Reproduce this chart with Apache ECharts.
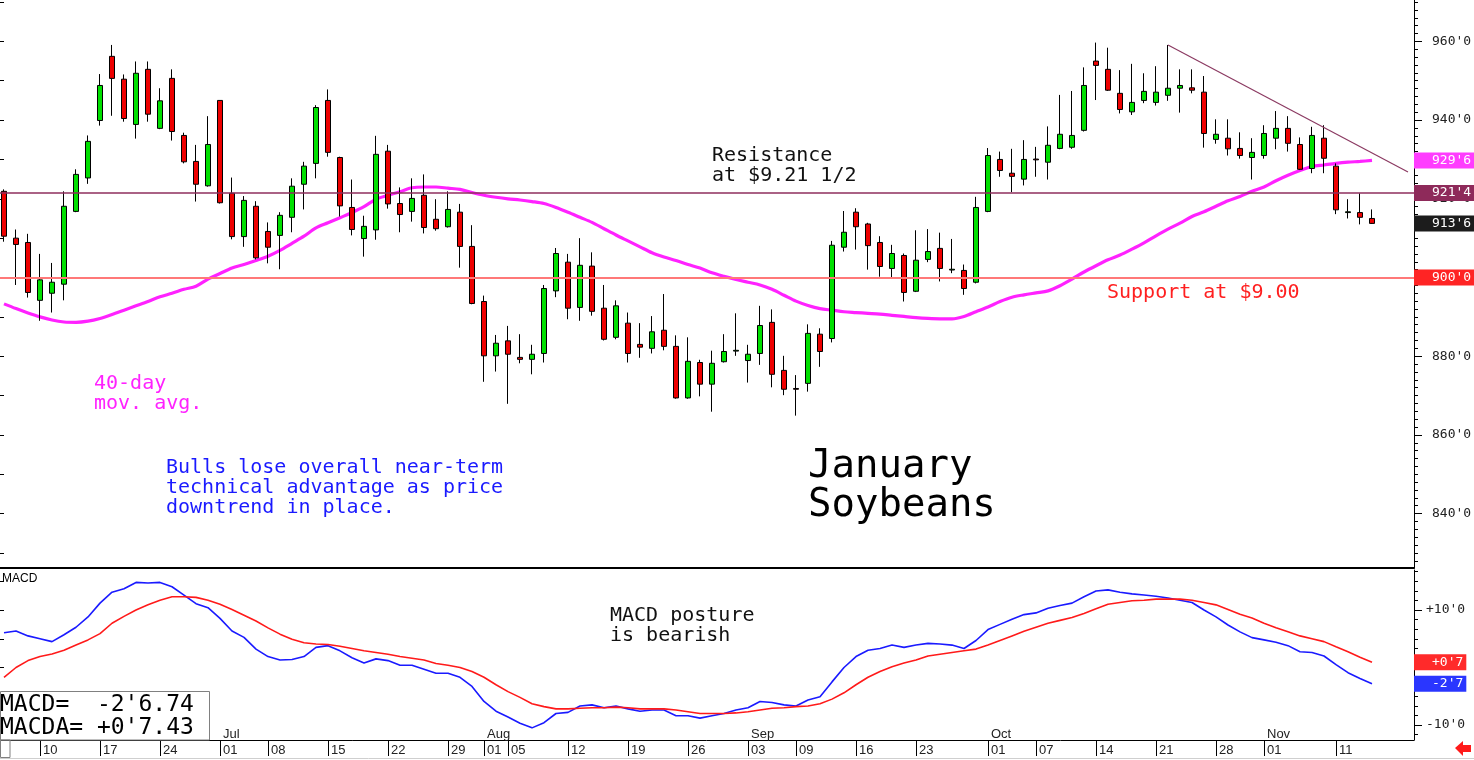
<!DOCTYPE html>
<html><head><meta charset="utf-8">
<script src="https://cdn.jsdelivr.net/npm/echarts@6/dist/echarts.min.js"></script>
<style>html,body{margin:0;padding:0;background:#fff}#c{width:1474px;height:760px}</style>
</head><body><div id="c"></div>
<script>
// ---- trading days (2019) ----
const junDays=[5,6,7,10,11,12,13,14,17,18,19,20,21,24,25,26,27,28];
const julDays=[1,2,3,5,8,9,10,11,12,15,16,17,18,19,22,23,24,25,26,29,30,31];
const augDays=[1,2,5,6,7,8,9,12,13,14,15,16,19,20,21,22,23,26,27,28,29,30];
const sepDays=[3,4,5,6,9,10,11,12,13,16,17,18,19,20,23,24,25,26,27,30];
const octDays=[1,2,3,4,7,8,9,10,11,14,15,16,17,18,21,22,23,24,25,28,29,30,31];
const novDays=[1,4,5,6,7,8,11,12,13,14];
const dayLabels=['06-10','06-17','06-24','07-01','07-08','07-15','07-22','07-29','08-01','08-05','08-12','08-19','08-26','09-03','09-09','09-16','09-23','10-01','10-07','10-14','10-21','10-28','11-01','11-11'];
const monthLabels={'07-01':'Jul','08-01':'Aug','09-03':'Sep','10-01':'Oct','11-01':'Nov'};
const priceTicks=[840,860,880,900,920,940,960];
const macdTicks=[-10,10];

// ---- OHLC ----
const opens=[921.9,910.0,908.9,894.2,896.0,898.3,916.8,925.3,939.9,956.2,950.4,938.9,952.9,937.9,950.6,936.1,929.5,923.3,945.0,921.4,910.4,918.1,911.7,910.7,915.3,923.7,929.0,945.0,930.5,917.8,909.9,912.1,932.1,918.8,916.8,920.9,914.8,912.9,916.6,907.9,893.9,880.1,883.9,879.7,879.2,880.7,896.6,903.9,892.4,902.9,892.2,884.8,888.4,883.0,882.0,886.6,882.5,869.4,878.4,872.9,878.6,881.3,878.9,880.7,888.6,876.4,871.8,873.1,885.6,884.5,907.7,916.6,913.6,908.9,902.3,905.6,896.5,904.6,907.4,901.9,901.8,898.8,916.8,930.0,926.5,925.0,930.1,929.3,932.8,933.1,937.4,955.0,952.9,946.8,942.1,945.0,944.5,946.3,948.1,948.2,947.1,935.1,935.4,932.8,930.5,931.0,935.4,937.9,933.8,927.7,935.4,928.3,916.5,916.5,915.0];
const closes=[910.5,908.4,896.2,899.4,898.8,918.1,926.2,934.6,948.8,950.6,940.4,951.9,941.5,944.9,937.1,929.4,923.7,933.8,919.0,910.4,919.6,905.0,907.7,915.8,923.2,928.3,943.2,931.8,918.2,912.2,913.0,931.3,918.7,916.0,920.1,912.7,912.4,917.3,907.9,893.4,880.1,883.3,880.5,879.2,880.5,897.2,906.1,892.2,903.1,891.4,884.3,892.8,880.7,882.3,886.2,882.5,869.4,878.7,872.9,878.2,881.2,881.5,880.5,887.8,875.4,871.6,871.6,885.8,881.2,908.2,911.5,912.9,908.1,902.8,906.1,896.2,904.4,906.6,902.3,902.1,897.2,917.8,931.0,927.2,925.7,930.0,929.9,933.6,936.4,936.1,948.8,953.9,947.6,942.7,944.5,947.3,947.1,948.1,948.8,947.6,936.6,936.4,932.7,931.0,931.8,936.6,937.9,934.1,927.5,936.1,930.3,917.2,916.7,915.3,913.75];
const lows=[909.1,898.1,894.9,889.0,891.1,894.2,916.6,923.8,938.6,941.1,939.6,935.3,939.6,937.7,934.8,929.0,919.3,923.1,918.8,909.7,907.8,904.6,903.6,902.1,911.5,917.3,925.2,930.7,915.5,910.7,905.3,909.6,917.5,911.5,914.2,911.2,911.9,912.7,902.5,893.2,873.5,876.1,867.9,878.2,875.4,878.4,895.0,889.4,889.0,890.3,884.0,884.3,878.4,879.6,880.7,881.5,869.2,869.2,869.8,865.9,878.4,880.1,873.3,877.8,872.1,870.1,864.9,871.0,877.3,883.5,906.6,907.1,902.0,900.2,899.7,893.9,896.3,903.9,899.0,901.1,895.6,898.5,916.6,925.6,921.7,923.4,925.6,924.9,932.6,932.7,937.1,945.1,947.4,941.7,941.3,944.3,943.7,944.9,941.9,946.8,933.0,934.0,931.0,930.2,924.9,930.2,932.6,932.0,927.3,926.5,926.5,916.1,915.0,913.5,913.6];
const highs=[922.4,912.2,911.1,906.0,903.7,921.9,927.5,936.1,951.7,959.1,951.6,954.9,954.9,948.1,952.9,936.8,933.7,941.0,945.0,925.4,920.7,919.4,914.0,916.6,925.2,929.4,943.8,947.8,930.7,924.9,915.7,936.0,933.7,922.9,925.2,926.2,919.9,921.9,918.7,913.3,895.4,885.4,887.7,885.6,882.9,898.1,907.5,906.0,910.0,906.4,898.1,894.2,891.1,888.4,890.2,895.8,885.3,884.8,879.1,881.4,885.6,890.9,882.9,892.8,891.9,880.1,875.2,888.1,887.1,909.3,916.9,917.6,913.9,910.5,908.3,906.1,912.0,912.3,911.4,909.8,903.3,920.5,932.9,932.0,932.7,934.9,933.2,938.4,946.4,947.4,953.4,959.7,958.4,952.7,954.3,951.9,953.7,959.1,952.9,952.9,951.2,940.2,940.2,936.9,935.4,938.7,942.3,941.0,935.6,938.3,938.7,929.0,919.9,921.4,917.3];
// ---- 40-day moving average ----
const ma40=[893.3,892.1,891.0,890.0,889.2,888.7,888.6,888.9,889.6,890.6,891.7,892.8,893.9,895.1,896.0,897.0,897.8,899.6,901.0,902.4,903.3,904.3,905.4,906.9,908.7,910.5,912.6,913.9,915.2,916.5,918.0,919.9,920.9,921.8,922.8,923.0,923.0,922.7,922.4,921.6,920.9,920.4,920.0,919.7,919.3,918.8,917.8,916.6,915.3,914.0,912.4,910.8,909.3,907.8,906.3,905.2,904.3,903.3,902.4,901.2,900.3,899.5,898.8,898.1,897.0,895.5,894.0,892.9,892.1,891.7,891.3,891.1,890.9,890.7,890.4,890.1,889.8,889.6,889.5,889.5,890.1,891.3,892.5,893.9,895.0,895.6,896.1,896.6,897.9,899.6,901.4,903.0,904.5,905.7,907.2,908.8,910.6,912.3,913.8,915.5,916.7,918.1,919.5,920.6,921.9,923.0,924.6,926.0,927.2,928.2,928.6,929.0,929.3,929.5,929.75];
// ---- MACD ----
const macd=[6.05,6.35,5.5,5.0,4.5,5.7,7.0,8.8,11.2,13.1,13.7,14.8,14.7,14.8,14.05,12.6,11.1,10.4,8.55,6.35,5.24,3.2,1.9,1.3,1.4,1.9,3.5,3.8,2.9,1.7,0.8,1.5,1.2,0.4,0.4,-0.3,-1.0,-1.0,-1.7,-3.3,-5.9,-7.6,-8.6,-9.7,-10.5,-9.6,-8.0,-7.8,-6.7,-6.5,-7.0,-6.7,-7.2,-7.6,-7.4,-7.4,-8.4,-8.4,-8.8,-8.4,-8.0,-7.4,-7.0,-5.9,-6.1,-6.5,-6.7,-5.65,-5.1,-2.5,0.0,1.9,3.0,3.3,3.9,3.5,3.9,4.2,4.1,3.9,3.3,4.7,6.6,7.5,8.4,9.2,9.5,10.3,10.8,11.2,12.3,13.3,13.5,13.1,12.8,12.6,12.4,12.1,11.7,11.3,10.0,8.8,7.4,6.2,5.2,4.8,4.4,3.8,2.75,2.6,2.0,0.5,-0.9,-1.9,-2.84];
const signal=[-1.7,0.0,1.2,1.9,2.35,3.0,3.9,4.8,5.9,7.7,8.9,10.0,10.9,11.7,12.3,12.3,12.2,11.7,11.0,10.1,9.1,8.1,6.9,5.8,4.9,4.3,4.1,4.0,3.7,3.3,2.9,2.6,2.3,1.9,1.6,1.3,0.7,0.4,0.0,-0.7,-1.7,-3.0,-4.2,-5.2,-6.3,-6.8,-7.2,-7.2,-7.1,-7.0,-7.0,-6.9,-7.0,-7.2,-7.2,-7.2,-7.4,-7.7,-8.0,-8.0,-8.0,-7.9,-7.7,-7.4,-7.1,-7.0,-6.8,-6.7,-6.3,-5.5,-4.4,-3.0,-1.7,-0.7,0.14,0.8,1.3,2.0,2.3,2.6,2.9,3.2,3.9,4.7,5.5,6.3,7.0,7.7,8.2,8.7,9.4,10.2,11.0,11.3,11.6,11.7,11.9,11.9,11.9,11.7,11.3,10.9,10.1,9.25,8.6,7.7,6.9,6.2,5.5,5.0,4.5,3.6,2.75,1.8,0.93];
// ---- levels / annotations ----
const resistance=921.5, support=900;
const trendStart=[97,959.1], trendEnd=[117,926.8];
const macdBoxText=["MACD=  -2'6.74","MACDA= +0'7.43"];

// ---- build ----
const dates=[];
[[6,junDays],[7,julDays],[8,augDays],[9,sepDays],[10,octDays],[11,novDays]].forEach(([m,ds])=>ds.forEach(d=>dates.push('2019-'+String(m).padStart(2,'0')+'-'+String(d).padStart(2,'0'))));
const cats=dates.slice(); while(cats.length<118) cats.push('');
const candles=opens.map((o,i)=>[o,closes[i],lows[i],highs[i]]);
const daySet=new Set(dayLabels);
function fmtP(v,sign){const s=v<0?'-':(sign&&v>0?'+':'');const a=Math.abs(v);let i=Math.floor(a),e=Math.round((a-i)*8);if(e===8){i++;e=0;}return s+i+"'"+e;}
const MONO='"DejaVu Sans Mono", monospace';
const PMIN=826.18,PMAX=970.52,MMIN=-12.61,MMAX=16.96;
const minorP=[];for(let v=828;v<=970;v+=2)minorP.push(v);
const minorM=[];for(let k=-7;k<=10;k++)minorM.push(k*10/6);
const leftP=[];for(let v=830;v<=970;v+=10)leftP.push(v);
function mkLabel(bg,txt){return {show:true,position:'end',distance:0,formatter:txt,backgroundColor:bg,color:'#fff',fontFamily:MONO,fontSize:13,padding:[2,3,1,18]};}

const chart=echarts.init(document.getElementById('c'),null,{renderer:'canvas'});
const option={
  animation:false,
  backgroundColor:'#fff',
  grid:[
    {left:-2,right:60,top:0,height:568,outerBoundsMode:'none'},
    {left:-2,right:60,top:570,height:170,outerBoundsMode:'none'}
  ],
  xAxis:[
    {gridIndex:0,type:'category',data:cats,boundaryGap:true,axisLine:{show:true,onZero:false,lineStyle:{color:'#000',width:2}},axisTick:{show:false},axisLabel:{show:false},splitLine:{show:false}},
    {gridIndex:1,type:'category',data:cats,boundaryGap:true,position:'bottom',offset:0,
      axisLine:{show:true,onZero:false,lineStyle:{color:'#000',width:1}},
      axisTick:{show:true,alignWithLabel:true,length:16,interval:(i,v)=>daySet.has(v.slice(5)),lineStyle:{color:'#000'}},
      axisLabel:{show:true,interval:(i,v)=>daySet.has(v.slice(5)),formatter:v=>v.slice(8),align:'left',padding:[0,0,0,3],margin:4,fontSize:13,color:'#222',fontFamily:'"Liberation Sans", Arial, sans-serif'},
      splitLine:{show:false}},
    {gridIndex:1,type:'category',data:cats,boundaryGap:true,position:'bottom',offset:0,
      axisLine:{show:false,onZero:false},axisTick:{show:false},
      axisLabel:{show:true,inside:true,interval:(i,v)=>!!monthLabels[v.slice(5)],formatter:v=>monthLabels[v.slice(5)]||'',align:'left',padding:[0,0,0,3],margin:-1,fontSize:13,color:'#222',fontFamily:'"Liberation Sans", Arial, sans-serif'},
      splitLine:{show:false}}
  ],
  yAxis:[
    {gridIndex:0,type:'value',position:'right',min:PMIN,max:PMAX,
      axisLine:{show:true,onZero:false,lineStyle:{color:'#000'}},
      axisTick:{show:true,length:8,customValues:priceTicks,lineStyle:{color:'#000'}},
      axisLabel:{show:true,customValues:priceTicks,formatter:v=>fmtP(v,false),margin:18,fontFamily:MONO,fontSize:13,color:'#222'},
      splitLine:{show:false}},
    {gridIndex:0,type:'value',position:'right',min:PMIN,max:PMAX,
      axisLine:{show:false},axisTick:{show:true,length:4,customValues:minorP,lineStyle:{color:'#000'}},axisLabel:{show:false},splitLine:{show:false}},
    {gridIndex:0,type:'value',position:'left',min:PMIN,max:PMAX,
      axisLine:{show:false},axisTick:{show:true,inside:true,length:6,customValues:leftP,lineStyle:{color:'#000'}},axisLabel:{show:false},splitLine:{show:false}},
    {gridIndex:1,type:'value',position:'right',min:MMIN,max:MMAX,
      axisLine:{show:true,onZero:false,lineStyle:{color:'#000'}},
      axisTick:{show:true,length:8,customValues:[-10,0,10],lineStyle:{color:'#000'}},
      axisLabel:{show:true,customValues:macdTicks,formatter:v=>fmtP(v,true),margin:12,fontFamily:MONO,fontSize:13,color:'#222'},
      splitLine:{show:false}},
    {gridIndex:1,type:'value',position:'right',min:MMIN,max:MMAX,
      axisLine:{show:false},axisTick:{show:true,length:4,customValues:minorM,lineStyle:{color:'#000'}},axisLabel:{show:false},splitLine:{show:false}},
    {gridIndex:1,type:'value',position:'left',min:MMIN,max:MMAX,
      axisLine:{show:false},axisTick:{show:true,inside:true,length:6,customValues:[-10,-5,0,5,10,15],lineStyle:{color:'#000'}},axisLabel:{show:false},splitLine:{show:false}}
  ],
  series:[
    {type:'candlestick',xAxisIndex:0,yAxisIndex:0,data:candles,barWidth:6,z:3,
      itemStyle:{color:'#00e000',color0:'#ee0000',borderColor:'#000',borderColor0:'#000',borderWidth:1},
      markLine:{silent:true,symbol:['none','none'],animation:false,
        data:[
          {yAxis:support,lineStyle:{color:'#ff7878',width:2,type:'solid'},label:mkLabel('#ff2424',fmtP(support,false))},
          {yAxis:resistance,lineStyle:{color:'#8e2e5c',width:1.5,type:'solid'},label:mkLabel('#8e2a5a',fmtP(resistance,false))},
          {yAxis:closes[closes.length-1],lineStyle:{color:'rgba(0,0,0,0)',width:0},label:mkLabel('#1c1c1c',fmtP(closes[closes.length-1],false))}
        ]}},
    {type:'line',xAxisIndex:0,yAxisIndex:0,data:ma40,smooth:0.3,showSymbol:false,z:2,
      lineStyle:{color:'#ff22ff',width:3.2},
      markLine:{silent:true,symbol:['none','none'],animation:false,
        data:[{yAxis:ma40[ma40.length-1],lineStyle:{color:'rgba(0,0,0,0)',width:0},label:mkLabel('#ff3cff',fmtP(ma40[ma40.length-1],false))}]}},
    {type:'line',xAxisIndex:0,yAxisIndex:0,data:[trendStart,trendEnd],showSymbol:false,z:4,
      lineStyle:{color:'#8b3a62',width:1.2}},
    {type:'line',xAxisIndex:1,yAxisIndex:3,data:macd,showSymbol:false,z:3,
      lineStyle:{color:'#1a1aff',width:1.6},
      markLine:{silent:true,symbol:['none','none'],animation:false,
        data:[{yAxis:macd[macd.length-1],lineStyle:{color:'rgba(0,0,0,0)',width:0},label:mkLabel('#2a36ff',fmtP(macd[macd.length-1],true))}]}},
    {type:'line',xAxisIndex:1,yAxisIndex:3,data:signal,showSymbol:false,z:3,
      lineStyle:{color:'#ff1a1a',width:1.6},
      markLine:{silent:true,symbol:['none','none'],animation:false,
        data:[{yAxis:signal[signal.length-1],lineStyle:{color:'rgba(0,0,0,0)',width:0},label:mkLabel('#ff2a2a',fmtP(signal[signal.length-1],true))}]}}
  ],
  graphic:[
    {type:'text',x:712,y:156,z:50,style:{text:'Resistance',fill:'#111',font:'20px '+MONO,textVerticalAlign:'middle',verticalAlign:'middle'}},
    {type:'text',x:712,y:176,z:50,style:{text:'at $9.21 1/2',fill:'#111',font:'20px '+MONO,textVerticalAlign:'middle',verticalAlign:'middle'}},
    {type:'text',x:1107,y:293,z:50,style:{text:'Support at $9.00',fill:'#ff2020',font:'20px '+MONO,textVerticalAlign:'middle',verticalAlign:'middle'}},
    {type:'text',x:94,y:384,z:50,style:{text:'40-day',fill:'#ff22ff',font:'20px '+MONO,textVerticalAlign:'middle',verticalAlign:'middle'}},
    {type:'text',x:94,y:404,z:50,style:{text:'mov. avg.',fill:'#ff22ff',font:'20px '+MONO,textVerticalAlign:'middle',verticalAlign:'middle'}},
    {type:'text',x:166,y:468,z:50,style:{text:'Bulls lose overall near-term',fill:'#1a1aff',font:'20px '+MONO,textVerticalAlign:'middle',verticalAlign:'middle'}},
    {type:'text',x:166,y:488,z:50,style:{text:'technical advantage as price',fill:'#1a1aff',font:'20px '+MONO,textVerticalAlign:'middle',verticalAlign:'middle'}},
    {type:'text',x:166,y:508,z:50,style:{text:'downtrend in place.',fill:'#1a1aff',font:'20px '+MONO,textVerticalAlign:'middle',verticalAlign:'middle'}},
    {type:'text',x:808,y:467,z:50,style:{text:'January',fill:'#000',font:'39px '+MONO,textVerticalAlign:'middle',verticalAlign:'middle'}},
    {type:'text',x:808,y:506,z:50,style:{text:'Soybeans',fill:'#000',font:'39px '+MONO,textVerticalAlign:'middle',verticalAlign:'middle'}},
    {type:'text',x:610,y:616,z:50,style:{text:'MACD posture',fill:'#111',font:'20px '+MONO,textVerticalAlign:'middle',verticalAlign:'middle'}},
    {type:'text',x:610,y:636,z:50,style:{text:'is bearish',fill:'#111',font:'20px '+MONO,textVerticalAlign:'middle',verticalAlign:'middle'}},
    {type:'text',x:2,y:579,z:50,style:{text:'MACD',fill:'#000',font:'12px "Liberation Sans", Arial, sans-serif',textVerticalAlign:'middle',verticalAlign:'middle'}},
    {type:'rect',z:60,shape:{x:0.5,y:691.5,width:209,height:48.5},style:{fill:'#fff',stroke:'#808080',lineWidth:1}},
    {type:'rect',z:60,shape:{x:0.5,y:740,width:9.5,height:17.5},style:{fill:'none',stroke:'#808080',lineWidth:1}},
    {type:'text',x:0,y:705,z:61,style:{text:macdBoxText[0],fill:'#000',font:'23px '+MONO,textVerticalAlign:'middle',verticalAlign:'middle'}},
    {type:'text',x:0,y:728,z:61,style:{text:macdBoxText[1],fill:'#000',font:'23px '+MONO,textVerticalAlign:'middle',verticalAlign:'middle'}},
    {type:'line',z:10,shape:{x1:0,y1:758.5,x2:1474,y2:758.5},style:{stroke:'#cfcfcf',lineWidth:1}},
    {type:'polygon',z:10,shape:{points:[[1455,748],[1463,741],[1463,745],[1471,745],[1471,752],[1463,752],[1463,756]]},style:{fill:'#ff1a1a'}}
  ]
};
chart.setOption(option);
</script></body></html>
